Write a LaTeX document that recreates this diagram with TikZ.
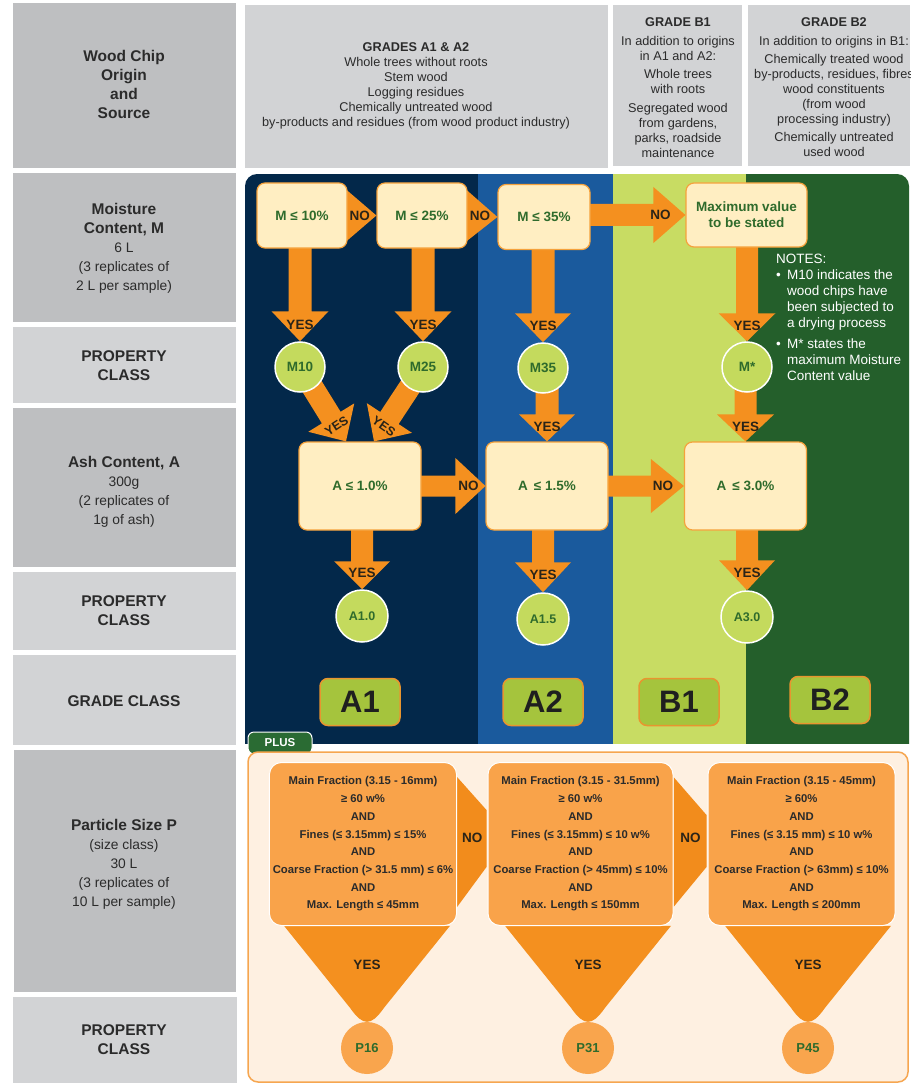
\documentclass[tikz,border=0pt]{standalone}
\usepackage{fontspec}
\setmainfont{Liberation Sans}
\usetikzlibrary{calc}
\pgfdeclarelayer{back}
\pgfdeclarelayer{mid}
\pgfsetlayers{back,mid,main}
\definecolor{navy}{HTML}{03284A}
\definecolor{ablue}{HTML}{1A5A9D}
\definecolor{lgreen}{HTML}{C8DC63}
\definecolor{dgreen}{HTML}{245F2B}
\definecolor{orng}{HTML}{F4901F}
\definecolor{orngd}{HTML}{F28C1C}
\definecolor{cream}{HTML}{FFEEC2}
\definecolor{boxborder}{HTML}{F5A23C}
\definecolor{cgreen}{HTML}{C4DA5D}
\definecolor{tgreen}{HTML}{2F6B2C}
\definecolor{gradefill}{HTML}{A5C43D}
\definecolor{gradeborder}{HTML}{E8952F}
\definecolor{graydark}{HTML}{BEBFC1}
\definecolor{graylight}{HTML}{D2D3D5}
\definecolor{peach}{HTML}{FEF0E1}
\definecolor{panelborder}{HTML}{F6A650}
\definecolor{porange}{HTML}{F9A34A}
\definecolor{pcirc}{HTML}{F9A54D}
\definecolor{txt}{HTML}{2B2B2B}
\definecolor{ynt}{HTML}{2A2418}
\definecolor{plusgreen}{HTML}{2A6B33}
\newcommand{\lbf}{\fontsize{15.5}{19}\selectfont\bfseries}
\tikzset{
 lbl/.style={align=center, text=txt, font=\fontsize{13.8}{19}\selectfont},
 hdr/.style={align=center, text=txt, font=\fontsize{12.7}{15}\selectfont},
 qbox/.style={rectangle, rounded corners=8pt, fill=cream, draw=boxborder, line width=1.2pt, text=tgreen, font=\fontsize{13.5}{16}\selectfont\bfseries, align=center},
 cls/.style={circle, fill=cgreen, draw=white, line width=1.5pt, minimum size=50pt, inner sep=0pt, text=tgreen, font=\fontsize{13.5}{14}\selectfont\bfseries},
 yn/.style={text=ynt, font=\fontsize{13.5}{14}\selectfont\bfseries, inner sep=0pt},
 grade/.style={rectangle, rounded corners=8pt, fill=gradefill, draw=gradeborder, line width=1.5pt, minimum width=80pt, minimum height=47pt, font=\fontsize{31}{31}\selectfont\bfseries, text=black!88},
 pbox/.style={rectangle, rounded corners=12pt, fill=porange, draw=white, line width=1pt, minimum height=163pt, align=center, text=txt, font=\fontsize{11.3}{17.7}\selectfont\bfseries},
 pcls/.style={circle, fill=pcirc, minimum size=52pt, inner sep=0pt, text=tgreen, font=\fontsize{13}{14}\selectfont\bfseries},
 notes/.style={text=white, align=left, inner sep=0pt, font=\fontsize{13.5}{16}\selectfont},
 plustab/.style={rectangle, rounded corners=6pt, fill=plusgreen, draw=white, line width=1pt, minimum width=64pt, minimum height=22pt, text=white, font=\fontsize{11.5}{12}\selectfont\bfseries},
}
% block arrow: start, end, half shaft, half head, head length, label, label distance from tip, label rotation, label name
\newcommand{\barrow}[9]{%
 \path (#1) coordinate (bas) (#2) coordinate (bae);
 \path ($(bae)!#5!(bas)$) coordinate (bah);
 \fill[orng] ($(bas)!#3!90:(bae)$) -- ($(bah)!#3!90:(bae)$) -- ($(bah)!#4!90:(bae)$) -- (bae) -- ($(bah)!#4!-90:(bae)$) -- ($(bah)!#3!-90:(bae)$) -- ($(bas)!#3!-90:(bae)$) -- cycle;
 \node[yn, rotate=#8] (#9) at ($(bae)!#7!(bas)$) {#6};
}
\newcommand{\funnel}[1]{%
 \begin{scope}[shift={(#1.north)}]
 \fill[orng] (-83,-96) -- (-17,-14) .. controls (-10,-4) and (-5,0) .. (0,0) .. controls (5,0) and (10,-4) .. (17,-14) -- (83,-96) -- cycle;
 \end{scope}
}
\begin{document}
\begin{tikzpicture}[x=1pt,y=-1pt]
\useasboundingbox (0,0) rectangle (910,1083);
\begin{pgfonlayer}{back}
\fill[white] (0,0) rectangle (910,1083);
% left column
\fill[graydark] (13,3) rectangle (236,168);
\fill[graydark] (13,173) rectangle (236,322);
\fill[graylight] (13,327) rectangle (236,403);
\fill[graydark] (13,408) rectangle (236,567);
\fill[graylight] (13,572) rectangle (236,650);
\fill[graylight] (13,655) rectangle (236,745);
\fill[graydark] (14,750) rectangle (236,992);
\fill[graylight] (13,997) rectangle (237,1083);
% header
\fill[graylight] (245,5) rectangle (608,168);
\fill[graylight] (613,5) rectangle (742,166);
\fill[graylight] (748,5) rectangle (910,166);
% main panel
\begin{scope}
\clip[rounded corners=12pt] (245,744) -- (245,174) -- (909,174) -- (909,744);
\fill[navy] (245,174) rectangle (478,744);
\fill[ablue] (478,174) rectangle (613,744);
\fill[lgreen] (613,174) rectangle (746,744);
\fill[dgreen] (746,174) rectangle (910,744);
\end{scope}
\node[plustab] (plus) at (280,743) {PLUS};
\draw[fill=peach, draw=panelborder, line width=1.5pt, rounded corners=10pt] (248,752) rectangle (908,1082);
\end{pgfonlayer}

% left labels
\node[lbl] (lwood) at (124,84) {{\lbf Wood Chip}\\{\lbf Origin}\\{\lbf and}\\{\lbf Source}};
\node[lbl] (lmoist) at (124,248) {{\lbf Moisture}\\{\lbf Content, M}\\6 L\\(3 replicates of\\2 L per sample)};
\node[lbl] (lprop1) at (124,366) {{\lbf PROPERTY}\\{\lbf CLASS}};
\node[lbl] (lash) at (124,492) {{\lbf Ash Content, A}\\300g\\(2 replicates of\\1g of ash)};
\node[lbl] (lprop2) at (124,611) {{\lbf PROPERTY}\\{\lbf CLASS}};
\node[lbl] (lgrade) at (124,701) {{\lbf GRADE CLASS}};
\node[lbl] (lpart) at (124,864) {{\lbf Particle Size P}\\(size class)\\30 L\\(3 replicates of\\10 L per sample)};
\node[lbl] (lprop3) at (124,1040) {{\lbf PROPERTY}\\{\lbf CLASS}};

% header texts
\node[hdr] (hA) at (416,85.5) {\textbf{GRADES A1 \& A2}\\Whole trees without roots\\Stem wood\\Logging residues\\Chemically untreated wood\\by-products and residues (from wood product industry)};
\node[hdr] (hB1) at (678,87.5) {\textbf{GRADE B1}\\[4pt]In addition to origins\\in A1 and A2:\\[3pt]Whole trees\\with roots\\[4pt]Segregated wood\\from gardens,\\parks, roadside\\maintenance};
\node[hdr] (hB2) at (834,87.5) {\textbf{GRADE B2}\\[4pt]In addition to origins in B1:\\[3pt]Chemically treated wood\\by-products, residues, fibres\\wood constituents\\(from wood\\processing industry)\\[3pt]Chemically untreated\\used wood};

% moisture decisions
\node[qbox, minimum width=90pt, minimum height=65pt] (qm10) at (302,215.5) {M ≤ 10\%};
\node[qbox, minimum width=90pt, minimum height=65pt] (qm25) at (422,215.5) {M ≤ 25\%};
\node[qbox, minimum width=92pt, minimum height=65pt] (qm35) at (544,217) {M ≤ 35\%};
\node[qbox, minimum width=121pt, minimum height=64pt] (qmax) at (746.5,215) {Maximum value\\to be stated};
\node[cls] (cm10) at (300,367) {M10};
\node[cls] (cm25) at (423,367) {M25};
\node[cls] (cm35) at (543,368) {M35};
\node[cls] (cmstar) at (747,367) {M*};

% ash decisions
\node[qbox, minimum width=122pt, minimum height=88pt] (qa1) at (360,486) {A ≤ 1.0\%};
\node[qbox, minimum width=122pt, minimum height=88pt] (qa2) at (547,486) {A \,≤ 1.5\%};
\node[qbox, minimum width=122pt, minimum height=88pt] (qa3) at (745.5,486) {A \,≤ 3.0\%};
\node[cls, minimum size=52pt, font=\fontsize{12.5}{14}\selectfont\bfseries] (ca10) at (362,616) {A1.0};
\node[cls, minimum size=52pt, font=\fontsize{12.5}{14}\selectfont\bfseries] (ca15) at (543,619) {A1.5};
\node[cls, minimum size=52pt, font=\fontsize{12.5}{14}\selectfont\bfseries] (ca30) at (747,617) {A3.0};

% grade classes
\node[grade] (gA1) at (360,702) {A1};
\node[grade] (gA2) at (543,702) {A2};
\node[grade] (gB1) at (679,702) {B1};
\node[grade] (gB2) at (830,700) {B2};

% notes
\node[notes, anchor=north west] (notes) at (776,254) {NOTES:\\
\makebox[11pt][l]{•}M10 indicates the\\
\hspace*{11pt}wood chips have\\
\hspace*{11pt}been subjected to\\
\hspace*{11pt}a drying process\\[5pt]
\makebox[11pt][l]{•}M* states the\\
\hspace*{11pt}maximum Moisture\\
\hspace*{11pt}Content value};

% particle size
\node[pbox, minimum width=186pt] (pb1) at (363,844) {Main Fraction (3.15 - 16mm)\\≥ 60 w\%\\AND\\Fines (≤ 3.15mm) ≤ 15\%\\AND\\Coarse Fraction (> 31.5 mm) ≤ 6\%\\AND\\Max. Length ≤ 45mm};
\node[pbox, minimum width=185pt] (pb2) at (580.5,844) {Main Fraction (3.15 - 31.5mm)\\≥ 60 w\%\\AND\\Fines (≤ 3.15mm) ≤ 10 w\%\\AND\\Coarse Fraction (> 45mm) ≤ 10\%\\AND\\Max. Length ≤ 150mm};
\node[pbox, minimum width=187pt] (pb3) at (801.5,844) {Main Fraction (3.15 - 45mm)\\≥ 60\%\\AND\\Fines (≤ 3.15 mm) ≤ 10 w\%\\AND\\Coarse Fraction (> 63mm) ≤ 10\%\\AND\\Max. Length ≤ 200mm};
\node[pcls] (pc1) at (367,1048) {P16};
\node[pcls] (pc2) at (588,1048) {P31};
\node[pcls] (pc3) at (808,1048) {P45};

\begin{pgfonlayer}{mid}
% moisture NO chevrons
\fill[orng] ($(qm10.north east)+(-4,5)$) -- (qm25.west) -- ($(qm10.south east)+(-4,-5)$) -- cycle;
\node[yn] (n1) at ($(qm10.east)!0.42!(qm25.west)$) {NO};
\fill[orng] ($(qm25.north east)+(-4,5)$) -- (qm35.west) -- ($(qm25.south east)+(-4,-5)$) -- cycle;
\node[yn] (n2) at ($(qm25.east)!0.42!(qm35.west)$) {NO};
\barrow{qm35 |- qmax}{qmax.west}{11pt}{28pt}{32pt}{NO}{25pt}{0}{n3}
% moisture YES arrows
\barrow{cm10 |- qm10}{cm10.north}{11.5pt}{28.5pt}{30pt}{YES}{16pt}{0}{y1}
\barrow{cm25 |- qm25}{cm25.north}{11.5pt}{28.5pt}{30pt}{YES}{16pt}{0}{y2}
\barrow{cm35 |- qm35}{cm35.north}{11.5pt}{28pt}{29pt}{YES}{16pt}{0}{y3}
\barrow{cmstar |- qmax}{cmstar.north}{11pt}{28.5pt}{28pt}{YES}{15pt}{0}{y4}
% to ash boxes
\barrow{cm10}{$(qa1.north)+(-14,0)$}{11pt}{27pt}{28pt}{\fontsize{12.5}{13}\selectfont YES}{18pt}{33}{y5}
\barrow{cm25}{$(qa1.north)+(14,0)$}{11pt}{27pt}{28pt}{\fontsize{12.5}{13}\selectfont YES}{18pt}{-35}{y6}
\barrow{qa2.north |- cm35}{qa2.north}{11.5pt}{28pt}{27pt}{YES}{15pt}{0}{y7}
\barrow{qa3.north |- cmstar}{qa3.north}{11pt}{28.5pt}{27pt}{YES}{15pt}{0}{y8}
% ash NO arrows
\barrow{qa1}{qa2.west}{10.5pt}{28pt}{30pt}{NO}{17pt}{0}{n4}
\barrow{qa2}{qa3.west}{10.5pt}{27pt}{33pt}{NO}{21pt}{0}{n5}
% ash YES arrows
\barrow{qa1 -| ca10}{ca10.north}{11pt}{28pt}{28pt}{YES}{16pt}{0}{y9}
\barrow{qa2 -| ca15}{ca15.north}{11pt}{28pt}{30pt}{YES}{17pt}{0}{y10}
\barrow{qa3 -| ca30}{ca30.north}{11pt}{28pt}{30pt}{YES}{17pt}{0}{y11}
% particle NO chevrons
\fill[orngd] ($(pb1.east)+(0,-67)$) -- ($(pb2.west)+(-1,-34)$) -- ($(pb2.west)+(-1,23)$) -- ($(pb1.east)+(0,63)$) -- cycle;
\node[yn] (n6) at ($(pb1.east)!0.5!(pb2.west)+(0,-6)$) {NO};
\fill[orngd] ($(pb2.east)+(0,-67)$) -- ($(pb3.west)+(-1,-29)$) -- ($(pb3.west)+(-1,23)$) -- ($(pb2.east)+(0,63)$) -- cycle;
\node[yn] (n7) at ($(pb2.east)!0.5!(pb3.west)+(0,-6)$) {NO};
% funnels
\funnel{pc1}
\funnel{pc2}
\funnel{pc3}
\node[yn] (y12) at ($(pc1.north)+(0,-57)$) {YES};
\node[yn] (y13) at ($(pc2.north)+(0,-57)$) {YES};
\node[yn] (y14) at ($(pc3.north)+(0,-57)$) {YES};
\end{pgfonlayer}
\end{tikzpicture}
\end{document}
